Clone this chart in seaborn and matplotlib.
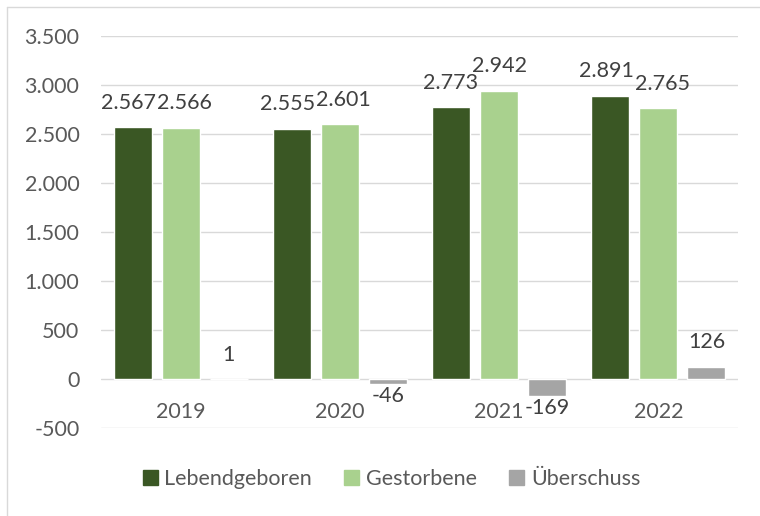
import matplotlib
matplotlib.use("Agg")
import matplotlib.pyplot as plt
from matplotlib.lines import Line2D
import seaborn as sns
import pandas as pd

# ---- data ----
years = ["2019", "2020", "2021", "2022"]
series = ["Lebendgeboren", "Gestorbene", "Überschuss"]
lebendgeboren = [2567, 2555, 2773, 2891]
gestorbene = [2566, 2601, 2942, 2765]
ueberschuss = [1, -46, -169, 126]
y_ticks = [-500, 0, 500, 1000, 1500, 2000, 2500, 3000, 3500]
colors = ["#3A5724", "#A9D18E", "#A5A5A5"]

values = {"Lebendgeboren": lebendgeboren, "Gestorbene": gestorbene, "Überschuss": ueberschuss}
rows = []
for s in series:
    for y, v in zip(years, values[s]):
        rows.append({"Jahr": y, "Serie": s, "Wert": v})
df = pd.DataFrame(rows)

sns.set_style("white")
plt.rcParams["font.family"] = ["Lato", "DejaVu Sans"]
FS = 15.5

W, H = 760, 516
fig = plt.figure(figsize=(W / 100, H / 100), dpi=100)
ax = fig.add_axes([101 / W, 1 - 428 / H, (738 - 101) / W, (428 - 36) / H])

sns.barplot(data=df, x="Jahr", y="Wert", hue="Serie", order=years, hue_order=series,
            palette=colors, width=0.906, gap=0.21, ax=ax, legend=False, saturation=1,
            errorbar=None)

ax.set_ylim(-500, 3500)
ax.set_yticks(y_ticks)
ax.set_yticklabels([f"{t:,}".replace(",", ".") for t in y_ticks])
ax.set_xlabel("")
ax.set_ylabel("")
ax.grid(axis="y", color="#D9D9D9", linewidth=1.0)
ax.grid(axis="x", visible=False)
ax.set_axisbelow(True)
for sp in ax.spines.values():
    sp.set_visible(False)

ax.tick_params(axis="y", length=0, pad=15.5, labelsize=FS, labelcolor="#595959")
ax.tick_params(axis="x", length=0, pad=-18.5, labelsize=FS, labelcolor="#595959")

# data labels
anns = {s: [] for s in series}
for cont, s in zip(ax.containers, series):
    for bar, v in zip(cont, values[s]):
        cx = bar.get_x() + bar.get_width() / 2
        lab = f"{v:,}".replace(",", ".")
        dy = 17.5 if v >= 0 else -9
        a = ax.annotate(lab, (cx, v), xytext=(0, dy), textcoords="offset points",
                        ha="center", va="center", fontsize=FS, color="#404040")
        anns[s].append(a)

# push apart neighbouring labels that collide (like Excel's label placement)
fig.canvas.draw()
r = fig.canvas.get_renderer()
px2pt = 72 / fig.dpi
for i in range(len(years)):
    a1, a2 = anns[series[0]][i], anns[series[1]][i]
    b1, b2 = a1.get_window_extent(r), a2.get_window_extent(r)
    ov_x = b1.x1 - b2.x0
    ov_y = min(b1.y1, b2.y1) - max(b1.y0, b2.y0)
    if ov_x > 0 and ov_y > 4:
        shift = (ov_x + 1) / 2 * px2pt
        x1, y1 = a1.xyann
        x2, y2 = a2.xyann
        a1.xyann = (x1 - shift, y1)
        a2.xyann = (x2 + shift, y2)

# legend
handles = [plt.Rectangle((0, 0), 1, 1, color=c) for c in colors]
fig.legend(handles, series, loc="center", bbox_to_anchor=(391.5 / W, 1 - 479 / H),
           ncol=3, frameon=False, fontsize=FS, labelcolor="#595959",
           handlelength=0.7, handleheight=0.7, handletextpad=0.3, columnspacing=1.5)

# chart border (left and top visible)
fig.add_artist(Line2D([6.5 / W, 6.5 / W], [0, 1 - 6.5 / H], transform=fig.transFigure,
                      color="#D9D9D9", linewidth=1.0))
fig.add_artist(Line2D([6.5 / W, 1], [1 - 6.5 / H, 1 - 6.5 / H], transform=fig.transFigure,
                      color="#D9D9D9", linewidth=1.0))

fig.savefig("out.png", dpi=100)
